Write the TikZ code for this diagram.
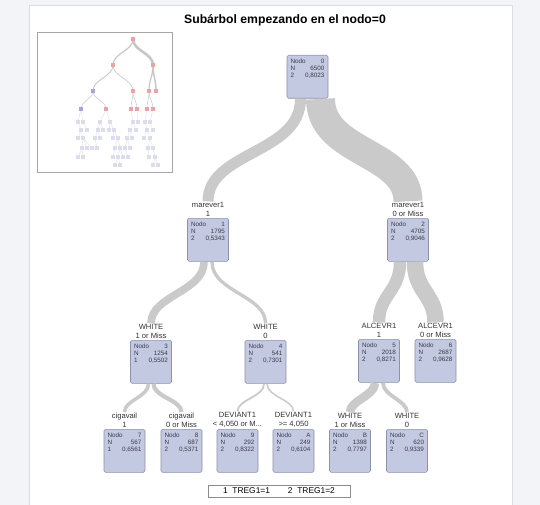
\documentclass[tikz,border=0pt]{standalone}
\usepackage{fontspec}
\setmainfont{Liberation Sans}
\usetikzlibrary{calc}
\definecolor{pagebg}{HTML}{F3F4F7}
\definecolor{panelline}{HTML}{DADCE0}
\definecolor{boxfill}{HTML}{C4C9E2}
\definecolor{boxline}{HTML}{8C91AC}
\definecolor{boxtext}{HTML}{3A3A48}
\definecolor{bandcol}{HTML}{CACACA}
\definecolor{thumbred}{HTML}{E9A3A6}
\definecolor{thumbblue}{HTML}{A3A6DA}
\definecolor{thumbfaint}{HTML}{DCDDEC}
\newcommand{\bx}[4]{\parbox[t][36pt][t]{34pt}{\fontsize{6.3}{7.3}\selectfont Nodo\hfill #1\\N\hfill #2\\#3\hfill #4}}
\tikzset{
  nbox/.style={anchor=north, rectangle, rounded corners=1.5pt, fill=boxfill, draw=boxline, line width=0.6pt,
    minimum width=41pt, minimum height=43pt, inner xsep=3.5pt, inner ysep=3.5pt, text=boxtext},
  lbl/.style={anchor=south, align=center, font=\fontsize{7.6}{9}\selectfont, inner sep=1pt, text=black!80},
  band/.style={draw=bandcol, line cap=butt},
  tband/.style={draw=black!22, line cap=butt},
  tdot/.style={rectangle, minimum size=3.6pt, inner sep=0pt},
}
\begin{document}
\begin{tikzpicture}[x=1pt,y=-1pt]
\useasboundingbox (0,0) rectangle (540,505);
\fill[pagebg] (0,0) rectangle (540,505);
\filldraw[fill=white, draw=panelline] (29,5) rectangle (512,506);

% title
\node[font=\bfseries\fontsize{12.2}{14}\selectfont] (title) at (285,20) {Subárbol empezando en el nodo=0};

% thumbnail
\draw[black!35, fill=white] (37,32) rectangle (172,172);
\coordinate (t0) at (133,39);
\coordinate (t1) at (113,65); \coordinate (t2) at (153,65);
\coordinate (t3) at (93,91); \coordinate (t4) at (133,91); \coordinate (t5) at (149,91); \coordinate (t6) at (156,91);
\coordinate (t7) at (81,109); \coordinate (t8) at (106,109); \coordinate (t9) at (131,109); \coordinate (tA) at (137,109); \coordinate (tB) at (147,109); \coordinate (tC) at (153,109);
\draw[tband, line width=1.2pt] (t0) .. controls +(0,12) and +(0,-12) .. (t1);
\draw[tband, line width=2.6pt] (t0) .. controls +(0,12) and +(0,-12) .. (t2);
\draw[tband, line width=0.9pt] (t1) .. controls +(0,12) and +(0,-12) .. (t3);
\draw[tband, line width=0.6pt] (t1) .. controls +(0,12) and +(0,-12) .. (t4);
\draw[tband, line width=1.2pt] (t2) .. controls +(0,12) and +(0,-12) .. (t5);
\draw[tband, line width=1.5pt] (t2) .. controls +(0,12) and +(0,-12) .. (t6);
\foreach \a/\b in {t3/t7,t3/t8,t4/t9,t4/tA,t5/tB,t5/tC}
  \draw[tband, line width=0.5pt] (\a) .. controls +(0,8) and +(0,-8) .. (\b);
% faint lower tree
\foreach \x/\y/\px/\py in {
  78/122/81/109, 83/122/81/109, 100/122/106/109, 110/122/106/109, 133/122/131/109, 138/122/137/109, 145/122/147/109, 150/122/153/109,
  81/130/78/122, 87/130/83/122, 98/130/100/122, 103/130/100/122, 109/130/110/122, 114/130/110/122, 130/130/133/122, 136/130/133/122, 147/130/145/122, 153/130/150/122,
  78/138/81/130, 83/138/81/130, 95/138/98/130, 100/138/98/130, 113/138/114/130, 118/138/114/130, 127/138/130/130, 132/138/130/130, 144/138/147/130, 150/138/147/130,
  82/148/83/138, 87/148/83/138, 92/148/83/138, 97/148/95/138, 115/148/118/138, 120/148/118/138, 125/148/127/138, 130/148/127/138, 148/148/150/138, 153/148/150/138,
  78/157/82/148, 83/157/82/148, 113/157/115/148, 118/157/120/148, 123/157/120/148, 128/157/125/148, 149/157/148/148, 155/157/153/148,
  115/165/118/157, 120/165/118/157, 153/165/155/157, 158/165/155/157}
  \draw[black!12, line width=0.4pt] (\px,\py) -- (\x,\y);
\foreach \x/\y in {
  78/122, 83/122, 100/122, 110/122, 133/122, 138/122, 145/122, 150/122,
  81/130, 87/130, 98/130, 103/130, 109/130, 114/130, 130/130, 136/130, 147/130, 153/130,
  78/138, 83/138, 95/138, 100/138, 113/138, 118/138, 127/138, 132/138, 144/138, 150/138,
  82/148, 87/148, 92/148, 97/148, 115/148, 120/148, 125/148, 130/148, 148/148, 153/148,
  78/157, 83/157, 113/157, 118/157, 123/157, 128/157, 149/157, 155/157,
  115/165, 120/165, 153/165, 158/165}
  \node[tdot, fill=thumbfaint] at (\x,\y) {};
\foreach \c in {t0,t1,t2,t4,t5,t6,t8,t9,tA,tB,tC}
  \node[tdot, fill=thumbred] at (\c) {};
\foreach \c in {t3,t7}
  \node[tdot, fill=thumbblue] at (\c) {};

% main nodes
\node[nbox] (n0) at (307.5,55) {\bx{0}{6500}{2}{0,8023}};
\node[nbox] (n1) at (208,218) {\bx{1}{1795}{2}{0,5343}};
\node[nbox] (n2) at (408,218) {\bx{2}{4705}{2}{0,9046}};
\node[nbox] (n3) at (151,340) {\bx{3}{1254}{1}{0,5502}};
\node[nbox] (n4) at (265.5,340) {\bx{4}{541}{2}{0,7301}};
\node[nbox] (n5) at (379,339) {\bx{5}{2018}{2}{0,8271}};
\node[nbox] (n6) at (435.5,339) {\bx{6}{2687}{2}{0,9628}};
\node[nbox] (n7) at (124.5,429) {\bx{7}{567}{1}{0,6561}};
\node[nbox] (n8) at (181.5,429) {\bx{8}{687}{2}{0,5371}};
\node[nbox] (n9) at (237.5,429) {\bx{9}{292}{2}{0,8322}};
\node[nbox] (nA) at (293.5,429) {\bx{A}{249}{2}{0,6104}};
\node[nbox] (nB) at (350,429) {\bx{B}{1398}{2}{0,7797}};
\node[nbox] (nC) at (407,429) {\bx{C}{620}{2}{0,9339}};

% split labels
\node[lbl] (l1) at (n1.north) {marever1\\1};
\node[lbl] (l2) at (n2.north) {marever1\\0 or Miss};
\node[lbl] (l3) at (n3.north) {WHITE\\1 or Miss};
\node[lbl] (l4) at (n4.north) {WHITE\\0};
\node[lbl] (l5) at (n5.north) {ALCEVR1\\1};
\node[lbl] (l6) at (n6.north) {ALCEVR1\\0 or Miss};
\node[lbl] (l7) at (n7.north) {cigavail\\1};
\node[lbl] (l8) at (n8.north) {cigavail\\0 or Miss};
\node[lbl] (l9) at (n9.north) {DEVIANT1\\< 4,050 or M...};
\node[lbl] (lA) at (nA.north) {DEVIANT1\\>= 4,050};
\node[lbl] (lB) at (nB.north) {WHITE\\1 or Miss};
\node[lbl] (lC) at (nC.north) {WHITE\\0};

% bands (width proportional to N)
\draw[band, line width=11pt] ($(n0.south)+(-7,0.3)$) .. controls +(0,55) and +(0,-50) .. (l1.north);
\draw[band, line width=29pt] ($(n0.south)+(13,0.3)$) .. controls +(0,55) and +(0,-50) .. (l2.north);
\draw[band, line width=7.7pt] ($(n1.south)+(-4,0.3)$) .. controls +(0,30) and +(0,-28) .. (l3.north);
\draw[band, line width=3.3pt] ($(n1.south)+(4,0.3)$) .. controls +(0,30) and +(0,-28) .. (l4.north);
\draw[band, line width=12.4pt] ($(n2.south)+(-8,0.3)$) .. controls +(0,30) and +(0,-28) .. (l5.north);
\draw[band, line width=16.5pt] ($(n2.south)+(7,0.3)$) .. controls +(0,30) and +(0,-28) .. (l6.north);
\draw[band, line width=3.5pt] ($(n3.south)+(-2.5,0.3)$) .. controls +(0,13) and +(0,-12) .. (l7.north);
\draw[band, line width=4.2pt] ($(n3.south)+(2.5,0.3)$) .. controls +(0,13) and +(0,-12) .. (l8.north);
\draw[band, line width=1.8pt] ($(n4.south)+(-1.5,0.3)$) .. controls +(0,13) and +(0,-12) .. (l9.north);
\draw[band, line width=1.5pt] ($(n4.south)+(1.5,0.3)$) .. controls +(0,13) and +(0,-12) .. (lA.north);
\draw[band, line width=8.6pt] ($(n5.south)+(-4,0.3)$) .. controls +(0,13) and +(0,-12) .. (lB.north);
\draw[band, line width=3.8pt] ($(n5.south)+(4,0.3)$) .. controls +(0,13) and +(0,-12) .. (lC.north);

% legend
\node[draw=black!45, line width=0.5pt, minimum width=142pt, minimum height=12pt, inner sep=1pt,
  font=\fontsize{8.4}{9}\selectfont] (leg) at (279,491) {1\ \ TREG1=1\hspace{18pt}2\ \ TREG1=2};
\end{tikzpicture}
\end{document}
